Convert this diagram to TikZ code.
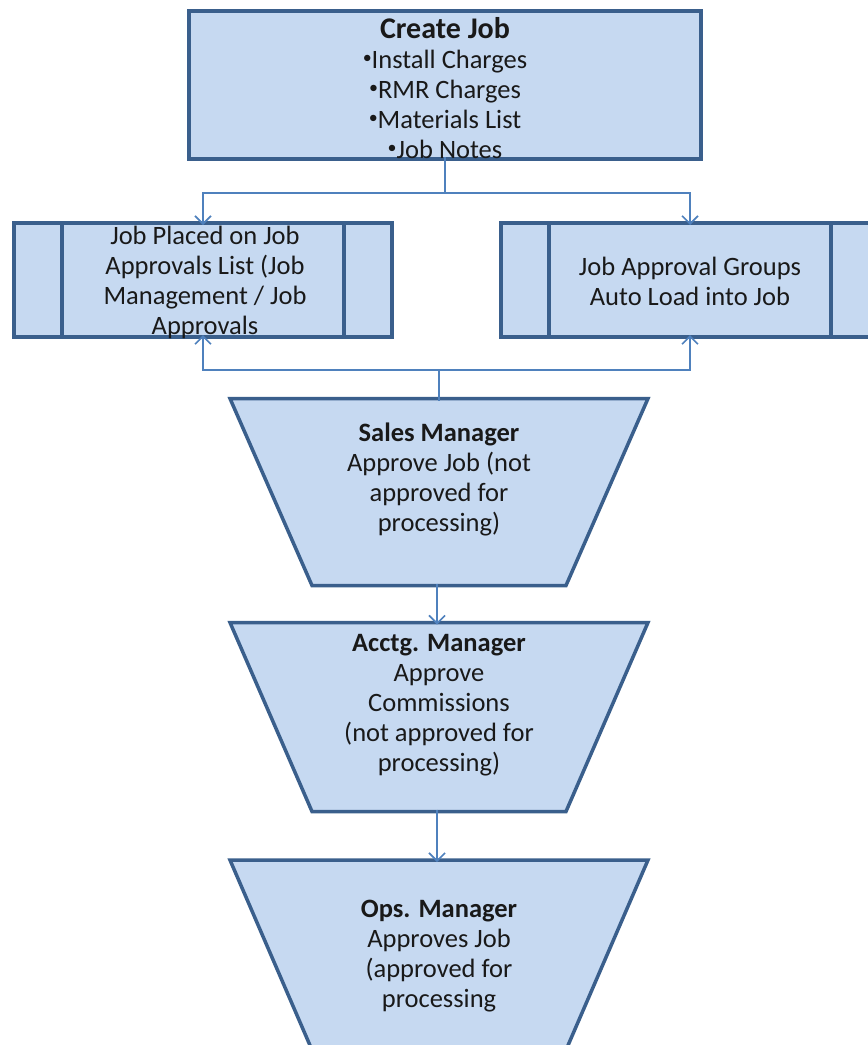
\documentclass[tikz,border=0pt]{standalone}
\usepackage{fontspec}
\setmainfont{Carlito}
\usetikzlibrary{arrows.meta}
\definecolor{boxfill}{HTML}{C6D9F1}
\definecolor{boxedge}{HTML}{3A5F8C}
\definecolor{wire}{HTML}{4F81BD}
\newcommand{\smbul}{\raisebox{5pt}{\fontsize{18}{30}\selectfont •}}
\begin{document}
\begin{tikzpicture}[x=1pt,y=-1pt,
  shapebox/.style={draw=boxedge, fill=boxfill, line width=3.5pt, line join=miter},
  holder/.style={inner sep=0pt, outer sep=0pt},
  txt/.style={align=center, text=black!90, font=\fontsize{26.5}{30}\selectfont, inner sep=0pt},
  wireline/.style={draw=wire, line width=1.8pt},
  arr/.style={wireline, -{Straight Barb[length=8pt,width=16pt,line width=1.6pt]}}
]
\useasboundingbox (0,0) rectangle (868,1045);

% Create Job
\node[shapebox, holder, minimum width=512, minimum height=148] (create) at (445,85) {};
\node[txt] (createtxt) at (445,88) {{\fontsize{30}{30}\selectfont\bfseries Create Job}\\ \smbul Install Charges\\ \smbul RMR Charges\\ \smbul Materials List\\ \smbul Job Notes};

% Left predefined process
\node[shapebox, holder, minimum width=378, minimum height=114] (left) at (203,280) {};
\draw[shapebox, fill=none] ([xshift=48]left.north west) -- ([xshift=48]left.south west);
\draw[shapebox, fill=none] ([xshift=-48]left.north east) -- ([xshift=-48]left.south east);
\node[txt] (lefttxt) at (205,282) {Job Placed on Job\\ Approvals List (Job\\ Management / Job\\ Approvals};

% Right predefined process
\node[shapebox, holder, minimum width=378, minimum height=114] (right) at (690,280) {};
\draw[shapebox, fill=none] ([xshift=48]right.north west) -- ([xshift=48]right.south west);
\draw[shapebox, fill=none] ([xshift=-48]right.north east) -- ([xshift=-48]right.south east);
\node[txt] (righttxt) at (690,281) {Job Approval Groups\\ Auto Load into Job};

% Trapezoids
\node[holder, minimum width=418, minimum height=187] (sales) at (439,492) {};
\draw[shapebox] (sales.north west) -- (sales.north east) -- ([xshift=-82]sales.south east) -- ([xshift=82]sales.south west) -- cycle;
\node[txt] (salestxt) at (439,479) {\textbf{Sales Manager}\\ Approve Job (not\\ approved for\\ processing)};

\node[holder, minimum width=418, minimum height=189] (acct) at (439,717) {};
\draw[shapebox] (acct.north west) -- (acct.north east) -- ([xshift=-82]acct.south east) -- ([xshift=82]acct.south west) -- cycle;
\node[txt] (accttxt) at (439,705) {\textbf{Acctg. Manager}\\ Approve\\ Commissions\\ (not approved for\\ processing)};

\node[holder, minimum width=418, minimum height=190] (ops) at (439,955) {};
\draw[shapebox] (ops.north west) -- (ops.north east) -- ([xshift=-82]ops.south east) -- ([xshift=82]ops.south west) -- cycle;
\node[txt] (opstxt) at (439,956) {\textbf{Ops. Manager}\\ Approves Job\\ (approved for\\ processing};

% Connectors
\coordinate (split1) at (445,193);
\draw[wireline] ([yshift=2]create.south) -- (split1);
\draw[arr] (split1) -| ([yshift=-2]left.north);
\draw[arr] (split1) -| ([yshift=-2]right.north);

\coordinate (split2) at (439,370);
\draw[wireline] ([yshift=-2]sales.north) -- (split2);
\draw[arr] (split2) -| ([yshift=2]left.south);
\draw[arr] (split2) -| ([yshift=2]right.south);

\draw[arr] ([xshift=-2,yshift=2]sales.south) -- ([xshift=-2,yshift=-2]acct.north);
\draw[arr] ([xshift=-2,yshift=2]acct.south) -- ([xshift=-2,yshift=-2]ops.north);
\end{tikzpicture}
\end{document}
